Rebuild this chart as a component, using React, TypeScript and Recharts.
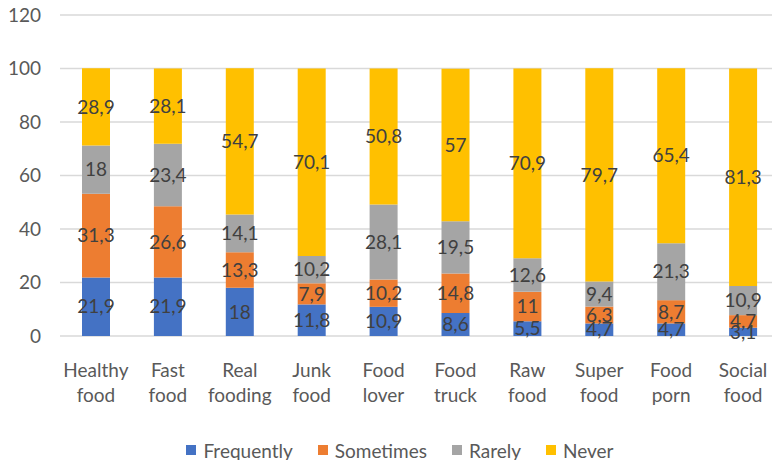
import React from "react";
import { BarChart, Bar, XAxis, YAxis, CartesianGrid, Legend, LabelList } from "recharts";

const categories = [
  "Healthy food",
  "Fast food",
  "Real fooding",
  "Junk food",
  "Food lover",
  "Food truck",
  "Raw food",
  "Super food",
  "Food porn",
  "Social food",
];
const frequently = [21.9, 21.9, 18, 11.8, 10.9, 8.6, 5.5, 4.7, 4.7, 3.1];
const sometimes = [31.3, 26.6, 13.3, 7.9, 10.2, 14.8, 11, 6.3, 8.7, 4.7];
const rarely = [18, 23.4, 14.1, 10.2, 28.1, 19.5, 12.6, 9.4, 21.3, 10.9];
const never = [28.9, 28.1, 54.7, 70.1, 50.8, 57, 70.9, 79.7, 65.4, 81.3];
const yTicks = [0, 20, 40, 60, 80, 100, 120];

const seriesNames = ["Frequently", "Sometimes", "Rarely", "Never"];
const seriesColors = ["#4472C4", "#ED7D31", "#A5A5A5", "#FFC000"];

const data = categories.map((name, i) => ({
  name,
  frequently: frequently[i],
  sometimes: sometimes[i],
  rarely: rarely[i],
  never: never[i],
}));

const FONT = "Lato, 'Noto Sans', sans-serif";
const AXIS_COLOR = "#595959";
const LABEL_COLOR = "#404040";

const fmt = (v: any) => String(v).replace(".", ",");

const CategoryTick = (props: any) => {
  const { x, y, payload } = props;
  const words = String(payload.value).split(" ");
  return (
    <text textAnchor="middle" fill={AXIS_COLOR} fontFamily={FONT} fontSize={19}>
      {words.map((w, i) => (
        <tspan key={i} x={x} y={y + 41 + i * 25}>
          {w}
        </tspan>
      ))}
    </text>
  );
};

const LegendContent = () => (
  <div
    style={{
      display: "flex",
      justifyContent: "center",
      alignItems: "center",
      height: 24,
      fontFamily: FONT,
      fontSize: 19,
      color: AXIS_COLOR,
    }}
  >
    {seriesNames.map((n, i) => (
      <div key={n} style={{ display: "flex", alignItems: "center", marginLeft: i === 0 ? 0 : 25 }}>
        <span style={{ width: 10, height: 10, background: seriesColors[i], marginRight: 7, display: "inline-block" }} />
        <span>{n}</span>
      </div>
    ))}
  </div>
);

const keys = ["frequently", "sometimes", "rarely", "never"];

export default function App() {
  return (
    <div style={{ position: "absolute", left: 0, top: 0, width: 772, height: 460, overflow: "hidden", background: "#fff" }}>
      <BarChart width={800} height={460} data={data} margin={{ top: 15, right: 21, left: 0, bottom: 0 }} barSize={28}>
        <CartesianGrid vertical={false} stroke="#d9d9d9" strokeWidth={1.5} />
        <XAxis
          dataKey="name"
          axisLine={false}
          tickLine={false}
          tickSize={0}
          tickMargin={0}
          height={100}
          interval={0}
          tick={<CategoryTick />}
        />
        <YAxis
          domain={[0, 120]}
          ticks={yTicks}
          width={60}
          axisLine={false}
          tickLine={false}
          tickSize={0}
          tickMargin={19}
          tick={{ fill: AXIS_COLOR, fontFamily: FONT, fontSize: 19 }}
        />
        <Legend
          verticalAlign="bottom"
          content={<LegendContent />}
          wrapperStyle={{ left: 0, width: 800, height: 24, top: 438 }}
        />
        {keys.map((k, i) => (
          <Bar key={k} dataKey={k} name={seriesNames[i]} stackId="a" fill={seriesColors[i]} isAnimationActive={false}>
            <LabelList
              dataKey={k}
              position="center"
              formatter={fmt}
              fill={LABEL_COLOR}
              fontFamily={FONT}
              fontSize={19}
            />
          </Bar>
        ))}
      </BarChart>
    </div>
  );
}
